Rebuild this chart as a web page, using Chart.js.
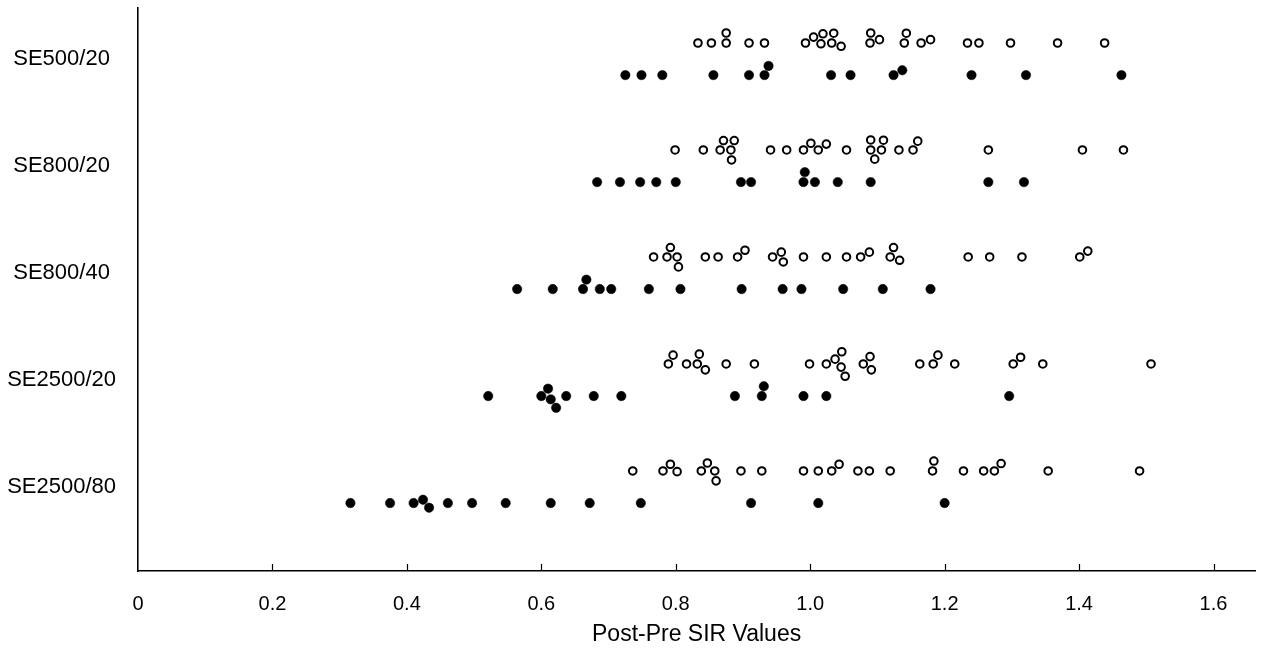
<!DOCTYPE html>
<html>
<head>
<meta charset="utf-8">
<script src="https://cdn.jsdelivr.net/npm/chart.js@4/dist/chart.umd.min.js"></script>
<style>
html,body{margin:0;padding:0;background:#fff;}
#wrap{width:1261px;height:654px;}
</style>
</head>
<body>
<div id="wrap"><canvas id="c" width="1261" height="654"></canvas></div>
<script>
// ---- data ----
const categories = ['SE500/20','SE800/20','SE800/40','SE2500/20','SE2500/80'];
const xTicks = [0,0.2,0.4,0.6,0.8,1.0,1.2,1.4,1.6];

const openSE500_20  = [0.833,0.853,0.875,0.875,0.909,0.932,0.993,1.005,1.016,1.019,1.032,1.035,1.046,1.089,1.090,1.103,1.140,1.143,1.165,1.179,1.234,1.251,1.298,1.368,1.438];
const filledSE500_20 = [0.725,0.749,0.780,0.856,0.909,0.932,0.938,1.031,1.060,1.124,1.137,1.240,1.321,1.463];

const openSE800_20  = [0.799,0.841,0.866,0.871,0.882,0.883,0.887,0.941,0.965,0.990,1.001,1.012,1.024,1.054,1.090,1.090,1.096,1.106,1.109,1.132,1.153,1.160,1.265,1.405,1.466];
const filledSE800_20 = [0.683,0.717,0.747,0.771,0.800,0.897,0.912,0.990,0.992,1.007,1.041,1.090,1.265,1.318];

const openSE800_40  = [0.767,0.787,0.792,0.802,0.804,0.844,0.863,0.892,0.903,0.944,0.957,0.960,0.990,1.024,1.054,1.075,1.088,1.119,1.124,1.133,1.235,1.267,1.315,1.401,1.413];
const filledSE800_40 = [0.564,0.617,0.662,0.667,0.687,0.704,0.760,0.807,0.898,0.959,0.987,1.049,1.108,1.179];

const openSE2500_20  = [0.789,0.796,0.816,0.832,0.835,0.844,0.875,0.917,0.999,1.024,1.037,1.046,1.047,1.052,1.079,1.089,1.091,1.163,1.183,1.190,1.215,1.302,1.313,1.346,1.507];
const filledSE2500_20 = [0.521,0.600,0.610,0.614,0.622,0.637,0.678,0.719,0.888,0.928,0.931,0.990,1.024,1.296];

const openSE2500_80  = [0.736,0.781,0.792,0.802,0.838,0.847,0.858,0.860,0.897,0.928,0.990,1.012,1.032,1.043,1.071,1.088,1.119,1.182,1.184,1.228,1.258,1.274,1.284,1.354,1.490];
const filledSE2500_80 = [0.316,0.375,0.410,0.424,0.433,0.461,0.497,0.547,0.614,0.672,0.748,0.912,1.012,1.200];

const openGroups = [openSE500_20, openSE800_20, openSE800_40, openSE2500_20, openSE2500_80];
const filledGroups = [filledSE500_20, filledSE800_20, filledSE800_40, filledSE2500_20, filledSE2500_80];

// ---- layout / scale settings ----
const X_MIN = 0, X_MAX = 1.662;
const Y_MIN = -0.477, Y_MAX = 4.785;
const PLOT_W = 1120, PLOT_H = 563;
const ROW_OFFSET = 0.15;
const DOT_D = 10; // px collision diameter for swarm layout

// beeswarm: stack overlapping dots vertically around the row line
function swarm(values, rowY){
  const pxPerX = PLOT_W/(X_MAX-X_MIN), unitPerPxY = (Y_MAX-Y_MIN)/PLOT_H;
  const placed = [];
  const sorted = values.slice().sort((a,b)=>a-b);
  const out = [];
  for(const v of sorted){
    const px = v*pxPerX;
    const near = placed.filter(p=>Math.abs(p.px-px) < DOT_D);
    const cands = [0];
    near.forEach(p=>{
      const h = Math.sqrt(DOT_D*DOT_D - (p.px-px)*(p.px-px));
      cands.push(p.dy + h, p.dy - h);
    });
    cands.sort((a,b)=>Math.abs(a)-Math.abs(b) || a-b);
    let dy = 0;
    for(const c of cands){
      if(near.every(p=>Math.hypot(p.px-px, p.dy-c) >= DOT_D-0.01)){ dy = c; break; }
    }
    placed.push({px, dy});
    out.push({x:v, y: rowY + dy*unitPerPxY});
  }
  return out;
}

const openData = [], filledData = [];
categories.forEach((c,i)=>{
  openData.push(...swarm(openGroups[i], i - ROW_OFFSET));
  filledData.push(...swarm(filledGroups[i], i + ROW_OFFSET));
});

const innerTicks = {
  id:'innerTicks',
  afterDraw(chart){
    const {ctx, scales:{x}, chartArea} = chart;
    ctx.save();
    ctx.strokeStyle = '#000';
    ctx.lineWidth = 1.2;
    xTicks.forEach(v=>{
      if(v===0) return;
      const px = Math.round(x.getPixelForValue(v))+0.5;
      ctx.beginPath();
      ctx.moveTo(px, chartArea.bottom);
      ctx.lineTo(px, chartArea.bottom-7);
      ctx.stroke();
    });
    ctx.restore();
  }
};

new Chart(document.getElementById('c'), {
  type:'scatter',
  data:{
    datasets:[
      {label:'open', data:openData, pointStyle:'circle', pointRadius:3.8, pointBorderWidth:2,
       borderColor:'#000', backgroundColor:'#fff', pointHoverRadius:3.8},
      {label:'filled', data:filledData, pointStyle:'circle', pointRadius:4.7, pointBorderWidth:0.5,
       borderColor:'#000', backgroundColor:'#000', pointHoverRadius:4.7}
    ]
  },
  plugins:[innerTicks],
  options:{
    responsive:false,
    animation:false,
    events:[],
    layout:{padding:{top:8, right:3, left:0, bottom:0}},
    plugins:{legend:{display:false}, tooltip:{enabled:false}},
    scales:{
      x:{
        type:'linear', min:X_MIN, max:X_MAX,
        afterBuildTicks(s){ s.ticks = xTicks.map(v=>({value:v})); },
        afterFit(s){ s.height = 83; s.paddingLeft = 0; s.paddingRight = 0; },
        grid:{display:false, drawTicks:false},
        border:{display:true, color:'#000', width:1.6},
        ticks:{
          color:'#000', padding:21, maxRotation:0, autoSkip:false,
          font:{family:"'Liberation Sans',Arial,sans-serif", size:20},
          callback:(v)=> v===0 ? '0' : Number(v).toFixed(1)
        },
        title:{display:true, text:'Post-Pre SIR Values', color:'#000',
          font:{family:"'Liberation Sans',Arial,sans-serif", size:23},
          padding:{top:0, bottom:6}}
      },
      y:{
        type:'linear', reverse:true, min:Y_MIN, max:Y_MAX,
        afterBuildTicks(s){ s.ticks = categories.map((c,i)=>({value:i})); },
        afterFit(s){ s.width = 138; s.paddingTop = 0; s.paddingBottom = 0; },
        grid:{display:false, drawTicks:false},
        border:{display:true, color:'#000', width:1.6},
        ticks:{
          color:'#000', padding:22, crossAlign:'center', autoSkip:false,
          font:{family:"'Liberation Sans',Arial,sans-serif", size:22},
          callback:(v)=> categories[v] ?? ''
        }
      }
    }
  }
});
</script>
</body>
</html>
